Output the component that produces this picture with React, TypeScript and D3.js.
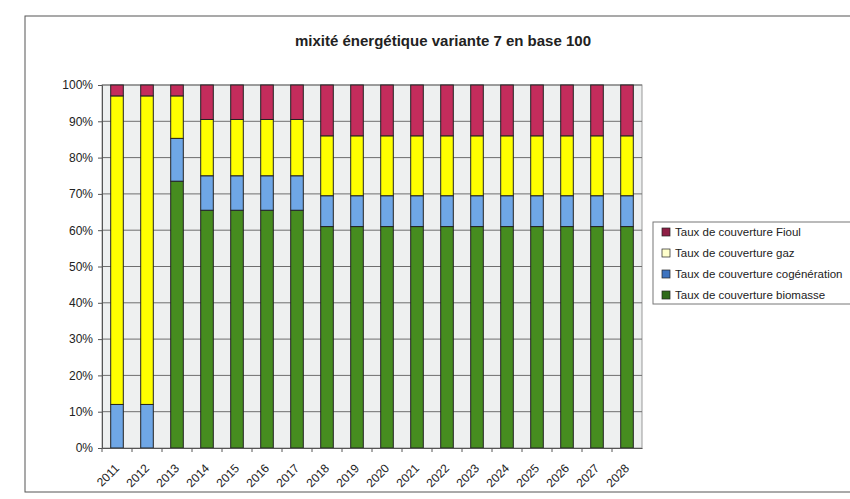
import { useEffect, useRef } from 'react'
import * as d3 from 'd3'

const years = ['2011', '2012', '2013', '2014', '2015', '2016', '2017', '2018', '2019', '2020',
  '2021', '2022', '2023', '2024', '2025', '2026', '2027', '2028']

// shares in % of each year (base 100)
const biomasse = [0, 0, 73.5, 65.5, 65.5, 65.5, 65.5, 61, 61, 61, 61, 61, 61, 61, 61, 61, 61, 61]
const cogeneration = [12, 12, 11.8, 9.5, 9.5, 9.5, 9.5, 8.5, 8.5, 8.5, 8.5, 8.5, 8.5, 8.5, 8.5, 8.5, 8.5, 8.5]
const gaz = [85, 85, 11.7, 15.5, 15.5, 15.5, 15.5, 16.5, 16.5, 16.5, 16.5, 16.5, 16.5, 16.5, 16.5, 16.5, 16.5, 16.5]
const fioul = [3, 3, 3, 9.5, 9.5, 9.5, 9.5, 14, 14, 14, 14, 14, 14, 14, 14, 14, 14, 14]

const seriesNames = ['biomasse', 'cogeneration', 'gaz', 'fioul']
const seriesColors = ['#468c1f', '#6fa7e6', '#ffff00', '#c42c5c']
const legendLabels = [
  'Taux de couverture Fioul',
  'Taux de couverture gaz',
  'Taux de couverture cogénération',
  'Taux de couverture biomasse'
]
const legendColors = ['#8e1f45', '#ffffcc', '#3e74c0', '#2f6a1a']
const yTicks = [0, 10, 20, 30, 40, 50, 60, 70, 80, 90, 100]

export default function App() {
  const svgRef = useRef<SVGSVGElement>(null)

  useEffect(() => {
    if (!svgRef.current) return
    const svg = d3.select(svgRef.current)
    svg.selectAll('*').remove()

    const font = 'Arial, "Liberation Sans", sans-serif'
    const left = 102
    const right = 642
    const top = 85
    const bottom = 448

    // outer frame
    svg.append('rect')
      .attr('x', 25).attr('y', 16).attr('width', 840).attr('height', 476)
      .attr('fill', '#fff').attr('stroke', '#555').attr('stroke-width', 1)

    svg.append('text')
      .attr('x', 443).attr('y', 46)
      .attr('text-anchor', 'middle')
      .attr('font-family', font).attr('font-size', 15).attr('font-weight', 'bold')
      .attr('fill', '#222')
      .text('mixité énergétique variante 7 en base 100')

    const x = d3.scaleBand().domain(years).range([left, right]).paddingInner(0.58).paddingOuter(0.29)
    const y = d3.scaleLinear().domain([0, 100]).range([bottom, top])

    const g = svg.append('g')

    g.append('rect')
      .attr('x', left).attr('y', top).attr('width', right - left).attr('height', bottom - top)
      .attr('fill', '#eef0f0').attr('stroke', '#999').attr('stroke-width', 1)

    g.selectAll('.grid')
      .data(yTicks.slice(1))
      .enter()
      .append('line')
      .attr('x1', left).attr('x2', right)
      .attr('y1', d => y(d)).attr('y2', d => y(d))
      .attr('stroke', '#6e6e6e').attr('stroke-width', 1)

    const table = years.map((yr, i) => ({
      year: yr,
      biomasse: biomasse[i],
      cogeneration: cogeneration[i],
      gaz: gaz[i],
      fioul: fioul[i]
    }))
    const stacked = d3.stack<any>().keys(seriesNames)(table)

    stacked.forEach((s, si) => {
      g.selectAll(`.bar-${si}`)
        .data(s)
        .enter()
        .append('rect')
        .attr('x', d => x(d.data.year)!)
        .attr('width', x.bandwidth())
        .attr('y', d => y(d[1]))
        .attr('height', d => y(d[0]) - y(d[1]))
        .attr('fill', seriesColors[si])
        .attr('stroke', d => (d[1] - d[0] > 0 ? '#222' : 'none'))
        .attr('stroke-width', 1)
    })

    // y axis
    const yAxis = g.append('g')
      .attr('transform', `translate(${left},0)`)
      .call(d3.axisLeft(y).tickValues(yTicks).tickSize(4).tickFormat(d => `${d}%`))
    yAxis.select('.domain').attr('stroke', '#555')
    yAxis.selectAll('.tick line').attr('stroke', '#555')
    yAxis.selectAll('text')
      .attr('font-family', font).attr('font-size', 12).attr('fill', '#222')
      .attr('x', -9)

    // x axis
    const xAxis = g.append('g')
      .attr('transform', `translate(0,${bottom})`)
      .call(d3.axisBottom(x).tickSize(0))
    xAxis.select('.domain').attr('stroke', '#555')
    xAxis.selectAll('text')
      .attr('font-family', font).attr('font-size', 12).attr('fill', '#222')
      .attr('text-anchor', 'end')
      .attr('dy', '0.35em')
      .attr('transform', 'translate(-2,16) rotate(-45)')

    // small ticks between categories
    g.selectAll('.xtick')
      .data(years)
      .enter()
      .append('line')
      .attr('x1', d => x(d)! - x.step() * 0.29)
      .attr('x2', d => x(d)! - x.step() * 0.29)
      .attr('y1', bottom).attr('y2', bottom + 4)
      .attr('stroke', '#555')

    // legend
    const lg = svg.append('g').attr('transform', 'translate(653,222)')
    lg.append('rect')
      .attr('width', 210).attr('height', 82)
      .attr('fill', '#fff').attr('stroke', '#777').attr('stroke-width', 1)
    legendLabels.forEach((lab, i) => {
      const row = lg.append('g').attr('transform', `translate(9,${10 + i * 21})`)
      row.append('rect')
        .attr('x', 0).attr('y', -4).attr('width', 8).attr('height', 8)
        .attr('fill', legendColors[i]).attr('stroke', '#222').attr('stroke-width', 0.7)
      row.append('text')
        .attr('x', 13).attr('y', 0).attr('dy', '0.35em')
        .attr('font-family', font).attr('font-size', 11.5).attr('fill', '#222')
        .text(lab)
    })
  }, [])

  return (
    <svg ref={svgRef} width={850} height={499}
      style={{ position: 'absolute', left: 0, top: 0, background: '#fff' }} />
  )
}
